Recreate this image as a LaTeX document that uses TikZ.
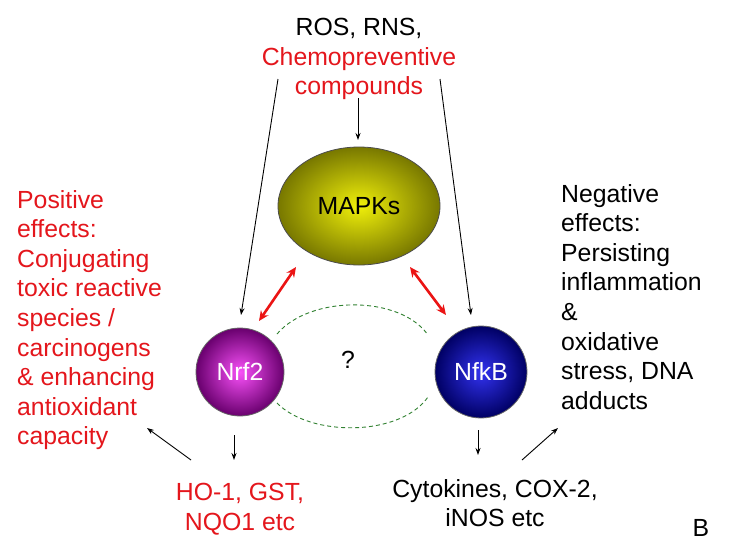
\documentclass[tikz,border=0pt]{standalone}
\usepackage{fontspec}
\setmainfont{Liberation Sans}
\usetikzlibrary{arrows.meta,shapes.geometric}
\definecolor{redtxt}{RGB}{228,22,28}
\definecolor{arrred}{RGB}{235,20,20}
\definecolor{dashgreen}{RGB}{50,130,50}
\definecolor{mapkin}{RGB}{240,240,10}
\definecolor{mapkout}{RGB}{120,120,0}
\definecolor{nrfin}{RGB}{248,80,248}
\definecolor{nrfout}{RGB}{105,0,110}
\definecolor{nfkin}{RGB}{50,50,240}
\definecolor{nfkout}{RGB}{0,0,100}
\begin{document}
\begin{tikzpicture}[x=1pt,y=-1pt,
  txt/.style={font=\fontsize{24.8}{29.6}\selectfont, inner sep=0pt},
  thinarrow/.style={-{Stealth[length=7pt,width=5pt]}, line width=0.9pt},
  redarrow/.style={{Stealth[length=10pt,width=9pt]}-{Stealth[length=10pt,width=9pt]}, line width=2.6pt, draw=arrred},
  ball/.style={circle, draw=black!60, line width=0.8pt, minimum size=#1, txt, text=white},
  greendash/.style={draw=dashgreen, line width=0.9pt, dash pattern=on 4pt off 3pt}]
\path[fill=white] (0,0) rectangle (740,550);
\useasboundingbox (0,0) rectangle (740,550);

% top text
\node[txt, align=center, anchor=north] (top) at (359,18) {ROS, RNS,\\ \textcolor{redtxt}{Chemopreventive}\\ \textcolor{redtxt}{compounds}};

% balls
\node[ellipse, minimum width=162pt, minimum height=118pt, draw=black!70, line width=0.8pt, inner color=mapkin, outer color=mapkout, txt] (mapk) at (359,206) {MAPKs};
\node[ball=88pt, inner color=nrfin, outer color=nrfout] (nrf) at (240,372) {Nrf2};
\node[ball=92pt, inner color=nfkin, outer color=nfkout] (nfk) at (481,372) {NfkB};

\node[txt] (q) at (348,360) {?};

% side texts
\node[txt, align=left, anchor=north west, text=redtxt] (pos) at (17,190) {Positive\\effects:\\Conjugating\\toxic reactive\\species /\\carcinogens\\\& enhancing\\antioxidant\\capacity};
\node[txt, align=left, anchor=north west] (neg) at (561,184) {Negative\\effects:\\Persisting\\inflammation\\\&\\oxidative\\stress, DNA\\adducts};

% bottom texts
\node[txt, align=center, anchor=north, text=redtxt] (ho) at (240,483) {HO-1, GST,\\NQO1 etc};
\node[txt, align=center, anchor=north] (cyt) at (495,479) {Cytokines, COX-2,\\iNOS etc};
\node[txt] (b) at (701,528) {B};

% connector end points
\coordinate (tl) at (278,79);
\coordinate (tr) at (440,79);
\coordinate (tm) at (358,98);
\coordinate (mt) at (358,140);
\coordinate (nrftop) at (241,315);
\coordinate (nfktop) at (471,315);
\coordinate (r1a) at (259,321);
\coordinate (r1b) at (296,267);
\coordinate (r2a) at (410,267);
\coordinate (r2b) at (446,315);
\coordinate (nrfdown1) at (234,435);
\coordinate (nrfdown2) at (234,460);
\coordinate (posfrom) at (191,460);
\coordinate (posto) at (147,428);
\coordinate (nfkdown1) at (478,430);
\coordinate (nfkdown2) at (478,455);
\coordinate (negfrom) at (522,460);
\coordinate (negto) at (558,428);
\coordinate (d1a) at (277,334);
\coordinate (d1b) at (428,335);
\coordinate (d2a) at (277,403);
\coordinate (d2b) at (428,397);

% arrows
\draw[thinarrow] (tl) -- (nrftop);
\draw[thinarrow] (tr) -- (nfktop);
\draw[thinarrow] (tm) -- (mt);
\draw[redarrow] (r1a) -- (r1b);
\draw[redarrow] (r2a) -- (r2b);
\draw[thinarrow] (nrfdown1) -- (nrfdown2);
\draw[thinarrow] (posfrom) -- (posto);
\draw[thinarrow] (nfkdown1) -- (nfkdown2);
\draw[thinarrow] (negfrom) -- (negto);

% dashed curves
\draw[greendash] (d1a) .. controls (310,295) and (400,295) .. (d1b);
\draw[greendash] (d2a) .. controls (310,437) and (400,437) .. (d2b);
\end{tikzpicture}
\end{document}
